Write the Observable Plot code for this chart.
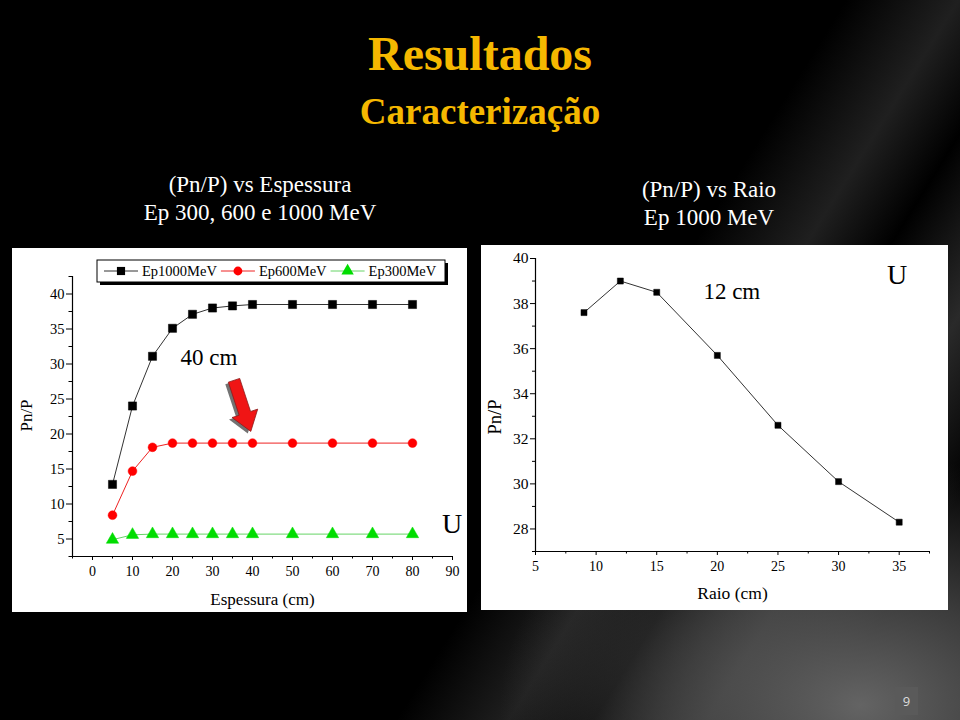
<!DOCTYPE html>
<html>
<head>
<meta charset="utf-8">
<script src="https://cdn.jsdelivr.net/npm/d3@7"></script>
<script src="https://cdn.jsdelivr.net/npm/@observablehq/plot@0.6"></script>
<style>
  html, body { margin: 0; padding: 0; background: #000; }
  #slide { position: relative; width: 960px; height: 720px; overflow: hidden; background: #000; font-family: "Liberation Serif", "Times New Roman", serif; }
  #bg { position: absolute; inset: 0;
    background:
      radial-gradient(ellipse 360px 250px at 860px 705px, rgba(105,105,105,0.95) 0%, rgba(80,80,80,0.75) 45%, rgba(0,0,0,0) 100%),
      linear-gradient(122deg, rgba(0,0,0,0) 60%, rgba(90,90,90,0.35) 68%, rgba(0,0,0,0) 74%, rgba(120,120,120,0.35) 82%, rgba(0,0,0,0) 90%),
      #000; }
  .t { position: absolute; left: 0; width: 960px; text-align: center; white-space: nowrap; }
  .title { color: #F5B800; font-weight: bold; }
  .sub { color: #fff; font-size: 23px; line-height: 23px; }
  .panel { position: absolute; background: #fff; }
  #pgnum { position: absolute; left: 895px; top: 687px; width: 23px; height: 28px; background: #5a5a5a; color: #ddd;
    font-family: "Open Sans", sans-serif; font-size: 13px; line-height: 28px; text-align: center; }
</style>
</head>
<body>
<div id="slide">
  <div id="bg"></div>
  <div class="t title" style="top:30px;font-size:48px;line-height:48px;">Resultados</div>
  <div class="t title" style="top:93px;font-size:37px;line-height:37px;">Caracterização</div>
  <div class="t sub" style="top:173px;left:-220px;">(Pn/P) vs Espessura</div>
  <div class="t sub" style="top:201px;left:-220px;">Ep 300, 600 e 1000 MeV</div>
  <div class="t sub" style="top:178px;left:229px;">(Pn/P) vs Raio</div>
  <div class="t sub" style="top:206px;left:229px;">Ep 1000 MeV</div>
  <div class="panel" id="left" style="left:12px;top:248px;width:455px;height:364px;"></div>
  <div class="panel" id="right" style="left:481px;top:245px;width:467px;height:365px;"></div>
  <div id="pgnum">9</div>
</div>
<script>
// ---------- data ----------
const espessura = [5, 10, 15, 20, 25, 30, 35, 40, 50, 60, 70, 80];
const ep1000 = [12.8, 24.0, 31.1, 35.1, 37.1, 38.0, 38.3, 38.5, 38.5, 38.5, 38.5, 38.5];
const ep600  = [8.4, 14.7, 18.1, 18.7, 18.7, 18.7, 18.7, 18.7, 18.7, 18.7, 18.7, 18.7];
const ep300  = [4.9, 5.6, 5.7, 5.7, 5.7, 5.7, 5.7, 5.7, 5.7, 5.7, 5.7, 5.7];
const seriesNames = ["Ep1000MeV", "Ep600MeV", "Ep300MeV"];
const seriesValues = [ep1000, ep600, ep300];
const seriesFill = ["#000000", "#ff0000", "#00dd00"];
const seriesLine = ["#333333", "#ee2222", "#66d466"];
const seriesSymbol = ["square", "circle", "triangle"];
const seriesR = [4.6, 4.4, 4.6];

const raio = [9, 12, 15, 20, 25, 30, 35];
const pnRaio = [37.6, 39.0, 38.5, 35.7, 32.6, 30.1, 28.3];

const leftXTicks = [0, 10, 20, 30, 40, 50, 60, 70, 80, 90];
const leftXMinor = [-5, 5, 15, 25, 35, 45, 55, 65, 75, 85];
const leftYTicks = [5, 10, 15, 20, 25, 30, 35, 40];
const leftYMinor = [2.5, 7.5, 12.5, 17.5, 22.5, 27.5, 32.5, 37.5, 42.5];
const rightXTicks = [5, 10, 15, 20, 25, 30, 35];
const rightXMinor = [7.5, 12.5, 17.5, 22.5, 27.5, 32.5, 37.5];
const rightYTicks = [28, 30, 32, 34, 36, 38, 40];
const rightYMinor = [27, 29, 31, 33, 35, 37, 39];

// annotations (data coordinates)
const leftNotes = [{x: 22.0, y: 29.8, text: "40 cm", size: 23}, {x: 87.4, y: 5.8, text: "U", size: 28}];
const rightNotes = [{x: 18.85, y: 38.2, text: "12 cm", size: 23}, {x: 34.0, y: 38.85, text: "U", size: 28}];
const arrowTail = {x: 35.5, y: 27.6};
const arrowTip = {x: 39.7, y: 20.3};

const FONT = "'Liberation Serif', 'Times New Roman', serif";

// ---------- left chart ----------
const leftRows = [];
seriesNames.forEach((name, i) => espessura.forEach((x, j) => leftRows.push({series: name, x, y: seriesValues[i][j]})));

const leftMarks = [
  Plot.ruleX([-5], {stroke: "#000", strokeWidth: 1.2}),
  Plot.ruleY([2.5], {stroke: "#000", strokeWidth: 1.2}),
  Plot.axisX({ticks: leftXTicks, tickSize: 4, tickPadding: 6, fontSize: 14, label: null}),
  Plot.axisX({ticks: leftXMinor, tickSize: 2.5, tickFormat: () => "", label: null}),
  Plot.axisY({ticks: leftYTicks, tickSize: 6, tickPadding: 2, fontSize: 14.5, label: null}),
  Plot.axisY({ticks: leftYMinor, tickSize: 3.5, tickFormat: () => "", label: null}),
];
seriesNames.forEach((name, i) => {
  const rows = leftRows.filter(d => d.series === name);
  leftMarks.push(Plot.line(rows, {x: "x", y: "y", stroke: seriesLine[i], strokeWidth: 1}));
  leftMarks.push(Plot.dot(rows, {x: "x", y: "y", symbol: () => seriesSymbol[i], r: seriesR[i], fill: seriesFill[i], stroke: seriesFill[i], strokeWidth: 0.5}));
});
leftNotes.forEach(n => leftMarks.push(Plot.text([n], {x: "x", y: "y", text: "text", fontSize: n.size, textAnchor: "start", lineAnchor: "bottom", fill: "#000"})));
leftMarks.push(Plot.text(["Pn/P"], {frameAnchor: "left", textAnchor: "middle", dx: -46, dy: -1, rotate: -90, fontSize: 17, fill: "#000"}));
leftMarks.push(Plot.text(["Espessura (cm)"], {frameAnchor: "bottom", textAnchor: "middle", dy: 48, lineAnchor: "bottom", fontSize: 17, fill: "#000"}));

const leftPlot = Plot.plot({
  width: 455, height: 364,
  marginLeft: 60, marginRight: 15, marginTop: 28, marginBottom: 56,
  style: {background: "white", fontFamily: FONT, fontSize: "14px", color: "#000", overflow: "visible"},
  x: {domain: [-5, 90]},
  y: {domain: [2.5, 42.5]},
  marks: leftMarks
});
document.getElementById("left").appendChild(leftPlot);

// red arrow annotation, positioned through the plot scales
{
  const sx = leftPlot.scale("x"), sy = leftPlot.scale("y");
  const t = [sx.apply(arrowTail.x), sy.apply(arrowTail.y)];
  const p = [sx.apply(arrowTip.x), sy.apply(arrowTip.y)];
  const dx = p[0] - t[0], dy = p[1] - t[1], L = Math.hypot(dx, dy);
  const u = [dx / L, dy / L], n = [-u[1], u[0]];
  const sw = 6, hw = 13.5, hl = 19;
  const nk = [p[0] - u[0] * hl, p[1] - u[1] * hl];
  const pts = [
    [t[0] + n[0] * sw, t[1] + n[1] * sw],
    [nk[0] + n[0] * sw, nk[1] + n[1] * sw],
    [nk[0] + n[0] * hw, nk[1] + n[1] * hw],
    p,
    [nk[0] - n[0] * hw, nk[1] - n[1] * hw],
    [nk[0] - n[0] * sw, nk[1] - n[1] * sw],
    [t[0] - n[0] * sw, t[1] - n[1] * sw]
  ];
  const svg = d3.select(leftPlot);
  svg.append("polygon").attr("points", pts.map(q => q.join(",")).join(" "))
    .attr("transform", "translate(-3,2)").attr("fill", "#444").attr("opacity", 0.75);
  svg.append("polygon").attr("points", pts.map(q => q.join(",")).join(" "))
    .attr("fill", "#f01515").attr("stroke", "#8a1a1a").attr("stroke-width", 0.8);
}

// legend box
{
  const svg = d3.select(leftPlot);
  const bx = 85, by = 12, bw = 348, bh = 22;
  const g = svg.append("g").attr("text-anchor", "start");
  g.append("rect").attr("x", bx + 3).attr("y", by + 3).attr("width", bw).attr("height", bh).attr("fill", "#000");
  g.append("rect").attr("x", bx).attr("y", by).attr("width", bw).attr("height", bh).attr("fill", "#fff").attr("stroke", "#000").attr("stroke-width", 1);
  const symMap = {square: d3.symbolSquare, circle: d3.symbolCircle, triangle: d3.symbolTriangle};
  let cx = bx + 7;
  const cy = by + bh / 2;
  seriesNames.forEach((name, i) => {
    g.append("line").attr("x1", cx).attr("x2", cx + 34).attr("y1", cy).attr("y2", cy).attr("stroke", seriesLine[i]).attr("stroke-width", 1);
    g.append("path").attr("d", d3.symbol(symMap[seriesSymbol[i]], Math.PI * seriesR[i] * seriesR[i])())
      .attr("transform", `translate(${cx + 17},${cy})`).attr("fill", seriesFill[i]);
    const tx = g.append("text").attr("x", cx + 38).attr("y", cy + 5).attr("text-anchor", "start")
      .attr("font-size", 14.5).attr("font-family", FONT).attr("fill", "#000").text(name);
    cx = cx + 38 + tx.node().getComputedTextLength() + 4;
  });
}

// ---------- right chart ----------
const rightRows = raio.map((x, j) => ({x, y: pnRaio[j]}));
const rightMarks = [
  Plot.ruleX([5], {stroke: "#000", strokeWidth: 1.2}),
  Plot.ruleY([27], {stroke: "#000", strokeWidth: 1.2}),
  Plot.axisX({ticks: rightXTicks, tickSize: 4, tickPadding: 6, fontSize: 14, label: null}),
  Plot.axisX({ticks: rightXMinor, tickSize: 2.5, tickFormat: () => "", label: null}),
  Plot.axisY({ticks: rightYTicks, tickSize: 5, tickPadding: 2, fontSize: 15.5, label: null}),
  Plot.axisY({ticks: rightYMinor, tickSize: 3, tickFormat: () => "", label: null}),
  Plot.line(rightRows, {x: "x", y: "y", stroke: "#333", strokeWidth: 1}),
  Plot.dot(rightRows, {x: "x", y: "y", symbol: "square", r: 3.4, fill: "#000", stroke: "#000", strokeWidth: 0.5}),
];
rightNotes.forEach(n => rightMarks.push(Plot.text([n], {x: "x", y: "y", text: "text", fontSize: n.size, textAnchor: "start", lineAnchor: "bottom", fill: "#000"})));
rightMarks.push(Plot.text(["Pn/P"], {frameAnchor: "left", textAnchor: "middle", dx: -40, dy: 12, rotate: -90, fontSize: 18.5, fill: "#000"}));
rightMarks.push(Plot.text(["Raio (cm)"], {frameAnchor: "bottom", textAnchor: "middle", dy: 47, lineAnchor: "bottom", fontSize: 17.5, fill: "#000"}));

const rightPlot = Plot.plot({
  width: 467, height: 365,
  marginLeft: 54, marginRight: 19, marginTop: 13, marginBottom: 59,
  style: {background: "white", fontFamily: FONT, fontSize: "14px", color: "#000", overflow: "visible"},
  x: {domain: [5, 37.5]},
  y: {domain: [27, 40]},
  marks: rightMarks
});
document.getElementById("right").appendChild(rightPlot);
</script>
</body>
</html>
